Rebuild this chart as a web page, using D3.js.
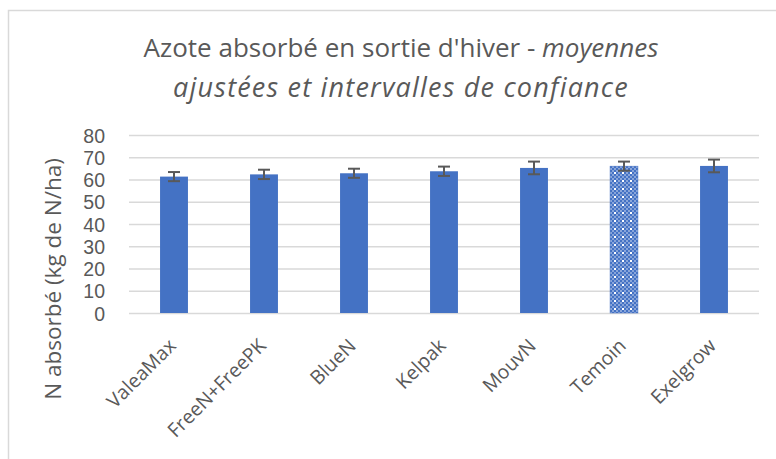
<!DOCTYPE html>
<html lang="fr">
<head>
  <meta charset="UTF-8">
  <title>Azote absorbé en sortie d'hiver</title>
  <script src="https://d3js.org/d3.v7.min.js"></script>
  <style>
    body { margin: 0; background: #fff; }
    svg { display: block; font-family: "Open Sans", "Noto Sans", sans-serif; }
    .grid line { stroke: #d9d9d9; stroke-width: 1.5; }
    .grid path { display: none; }
    .axis text { fill: #595959; font-family: "Open Sans", "Noto Sans", sans-serif; }
    .y.axis text { font-family: "Liberation Sans", Arial, sans-serif; }
    .axis path, .axis line { display: none; }
    .bar { fill: #4472c4; }
    .errbar { stroke: #595959; stroke-width: 2; fill: none; }
    .title { fill: #595959; font-size: 26px; text-anchor: middle; }
  </style>
</head>
<body>
  <div id="chart"></div>
  <script>
    // data
    const categories = ["ValeaMax", "FreeN+FreePK", "BlueN", "Kelpak", "MouvN", "Temoin", "Exelgrow"];
    const means = [61.3, 62.3, 62.8, 63.7, 65.2, 66.0, 66.1];
    const errors = [2.05, 2.1, 2.05, 2.1, 2.85, 2.05, 2.85];
    const yTicks = [0, 10, 20, 30, 40, 50, 60, 70, 80];
    const patterned = ["Temoin"];

    const W = 776, H = 459;
    const plot = { left: 129, right: 759, top: 135, bottom: 313 };

    const svg = d3.select("#chart")
      .append("svg")
      .attr("width", W)
      .attr("height", H);

    // chart frame
    svg.append("rect")
      .attr("x", 8.5).attr("y", 10.5)
      .attr("width", 800).attr("height", 500)
      .attr("fill", "#fff")
      .attr("stroke", "#d9d9d9")
      .attr("stroke-width", 1.5);

    // checker pattern for the control
    const defs = svg.append("defs");
    const pat = defs.append("pattern")
      .attr("id", "check")
      .attr("patternUnits", "userSpaceOnUse")
      .attr("width", 8).attr("height", 8);
    pat.append("rect").attr("width", 8).attr("height", 8).attr("fill", "#fff");
    [[0,0],[2,2],[4,0],[6,2],[0,4],[2,6],[4,4],[6,6]].forEach(([px, py]) => {
      pat.append("rect").attr("x", px).attr("y", py).attr("width", 2).attr("height", 2).attr("fill", "#4472c4");
    });
    [[2,0],[0,2],[6,0],[4,2],[2,4],[4,6],[0,6]].forEach(([px, py]) => {
      pat.append("rect").attr("x", px).attr("y", py).attr("width", 2).attr("height", 2).attr("fill", "#8aa6da");
    });

    const x = d3.scaleBand()
      .domain(categories)
      .range([plot.left, plot.right])
      .paddingInner(0.69)
      .paddingOuter(0.345);

    const y = d3.scaleLinear()
      .domain([0, 80])
      .range([plot.bottom, plot.top]);

    // gridlines
    svg.append("g")
      .attr("class", "grid")
      .attr("transform", `translate(${plot.left},0)`)
      .call(d3.axisLeft(y).tickValues(yTicks).tickSize(-(plot.right - plot.left)).tickFormat(""));

    // y axis labels
    svg.append("g")
      .attr("class", "y axis")
      .attr("transform", `translate(${plot.left - 21},0)`)
      .call(d3.axisLeft(y).tickValues(yTicks).tickSize(0))
      .selectAll("text")
      .style("font-size", "19.5px")
      .attr("dy", "0.36em");

    // bars
    svg.selectAll(".bar")
      .data(categories)
      .enter()
      .append("rect")
      .attr("class", "bar")
      .attr("x", d => x(d))
      .attr("y", (d, i) => y(means[i]))
      .attr("width", x.bandwidth())
      .attr("height", (d, i) => y(0) - y(means[i]))
      .style("fill", d => patterned.includes(d) ? "url(#check)" : null)
      .attr("stroke", d => patterned.includes(d) ? "#4472c4" : "none")
      .attr("stroke-width", 0.5);

    // error bars
    const eb = svg.selectAll(".err")
      .data(categories)
      .enter()
      .append("g")
      .attr("class", "errbar");
    eb.append("line")
      .attr("x1", d => x(d) + x.bandwidth() / 2)
      .attr("x2", d => x(d) + x.bandwidth() / 2)
      .attr("y1", (d, i) => y(means[i] - errors[i]))
      .attr("y2", (d, i) => y(means[i] + errors[i]));
    eb.append("line")
      .attr("x1", d => x(d) + x.bandwidth() / 2 - 6)
      .attr("x2", d => x(d) + x.bandwidth() / 2 + 6)
      .attr("y1", (d, i) => y(means[i] + errors[i]))
      .attr("y2", (d, i) => y(means[i] + errors[i]));
    eb.append("line")
      .attr("x1", d => x(d) + x.bandwidth() / 2 - 6)
      .attr("x2", d => x(d) + x.bandwidth() / 2 + 6)
      .attr("y1", (d, i) => y(means[i] - errors[i]))
      .attr("y2", (d, i) => y(means[i] - errors[i]));

    // x axis labels, rotated
    svg.append("g")
      .attr("class", "x axis")
      .attr("transform", `translate(0,${plot.bottom})`)
      .call(d3.axisBottom(x).tickSize(0))
      .selectAll("text")
      .style("font-size", "19.5px")
      .style("text-anchor", "end")
      .attr("dx", 0)
      .attr("dy", 0)
      .attr("transform", "translate(1,32) rotate(-45)");

    // y axis title
    svg.append("text")
      .attr("transform", "translate(61,279) rotate(-90)")
      .attr("text-anchor", "middle")
      .attr("fill", "#595959")
      .style("font-size", "22.5px")
      .text("N absorbé (kg de N/ha)");

    // title
    const t1 = svg.append("text").attr("class", "title").attr("x", 401).attr("y", 57);
    t1.append("tspan").text("Azote absorbé en sortie d'hiver - ");
    t1.append("tspan").style("font-style", "italic").text("moyennes");
    svg.append("text").attr("class", "title").attr("x", 401).attr("y", 97)
      .style("font-size", "27px")
      .style("font-style", "italic")
      .style("letter-spacing", "1.2px")
      .text("ajustées et intervalles de confiance");
  </script>
</body>
</html>
